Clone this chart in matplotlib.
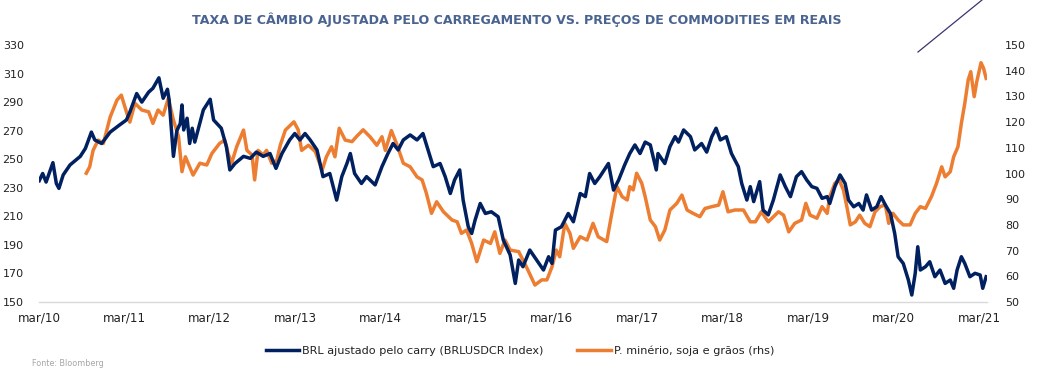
import matplotlib
matplotlib.use("Agg")
import matplotlib.pyplot as plt
from matplotlib.lines import Line2D

# ---- data (decimal years) ----
brl_t = [2010.17, 2010.21, 2010.25, 2010.33, 2010.37, 2010.40, 2010.45, 2010.53, 2010.65, 2010.71,
         2010.78, 2010.82, 2010.90, 2011.00, 2011.11, 2011.19, 2011.23, 2011.31, 2011.37, 2011.45,
         2011.50, 2011.57, 2011.62, 2011.67, 2011.69, 2011.72, 2011.74, 2011.78, 2011.82, 2011.84,
         2011.86, 2011.90, 2011.93, 2011.96, 2011.99, 2012.09, 2012.17, 2012.21, 2012.30, 2012.36,
         2012.40, 2012.46, 2012.56, 2012.64, 2012.71, 2012.79, 2012.87, 2012.94, 2013.01, 2013.10,
         2013.16, 2013.22, 2013.28, 2013.34, 2013.42, 2013.49, 2013.57, 2013.65, 2013.71, 2013.77,
         2013.81, 2013.86, 2013.94, 2014.00, 2014.10, 2014.18, 2014.25, 2014.31, 2014.37, 2014.43,
         2014.51, 2014.59, 2014.66, 2014.72, 2014.78, 2014.86, 2014.92, 2014.98, 2015.03, 2015.09,
         2015.13, 2015.19, 2015.23, 2015.27, 2015.33, 2015.39, 2015.46, 2015.54, 2015.60, 2015.68,
         2015.74, 2015.78, 2015.83, 2015.91, 2015.99, 2016.07, 2016.13, 2016.17, 2016.21, 2016.28,
         2016.36, 2016.42, 2016.50, 2016.56, 2016.61, 2016.67, 2016.73, 2016.83, 2016.89, 2016.95,
         2017.02, 2017.08, 2017.14, 2017.20, 2017.26, 2017.32, 2017.39, 2017.41, 2017.49, 2017.55,
         2017.61, 2017.65, 2017.71, 2017.79, 2017.84, 2017.92, 2017.98, 2018.04, 2018.09, 2018.14,
         2018.21, 2018.27, 2018.35, 2018.39, 2018.45, 2018.49, 2018.53, 2018.60, 2018.64, 2018.70,
         2018.76, 2018.84, 2018.90, 2018.96, 2019.03, 2019.09, 2019.15, 2019.21, 2019.27, 2019.33,
         2019.39, 2019.42, 2019.48, 2019.54, 2019.60, 2019.64, 2019.70, 2019.76, 2019.81, 2019.85,
         2019.91, 2019.97, 2020.02, 2020.07, 2020.13, 2020.18, 2020.22, 2020.28, 2020.34, 2020.38,
         2020.42, 2020.45, 2020.48, 2020.54, 2020.59, 2020.65, 2020.71, 2020.77, 2020.83, 2020.87,
         2020.91, 2020.96, 2021.00, 2021.06, 2021.12, 2021.18, 2021.21, 2021.25]
brl_v = [235, 240, 234, 247.6, 233, 229.6, 239, 246, 252, 257.6,
         269, 263.5, 261, 269, 274, 277.5, 283, 296, 290, 297,
         299.7, 307, 292.7, 299, 291.5, 268, 252, 270, 275, 288,
         270.5, 278.7, 261, 271.7, 262, 284.5, 292, 277.5, 271.7, 258.8,
         242.5, 247, 252, 250.6, 255, 252, 254, 243.6, 254, 263.5,
         268, 263.5, 268, 263.5, 256.5, 237.8, 240, 221.4, 237.8, 247,
         254, 240, 233, 237.8, 232, 244.8, 254, 261, 256.5, 263.5,
         267, 263.5, 268, 256.5, 244.8, 247, 237.8, 226, 235.5, 242.5,
         221.4, 202.7, 198, 207.4, 219, 212, 213.2, 209.7, 193.4, 183,
         163, 179.4, 174.7, 186.4, 179.4, 172.4, 181.7, 177, 200.4, 202.7,
         212, 206.2, 226, 223.8, 240, 233, 237.8, 247, 228.4, 235.5,
         246, 254, 260, 254, 262, 260, 242.5, 254, 247, 258.8,
         265.8, 262, 270.5, 265.8, 256.5, 261, 255, 265.8, 271.7, 263.5,
         265.8, 254, 244.8, 233, 221.4, 230.8, 220.3, 234.3, 214.4, 211,
         221.4, 239, 230.8, 223.8, 237.8, 241.3, 235.5, 230.8, 229.6, 222.6,
         223.8, 219, 230.8, 239, 233, 221.4, 216.7, 219, 214.4, 225,
         214.4, 216.7, 223.8, 218, 212, 198, 181.7, 177, 165.4, 154.9,
         170.1, 188.7, 172.4, 174.7, 178.2, 167.7, 172.4, 163, 165.4, 159.6,
         172.4, 181.7, 177, 167.7, 170.1, 168.9, 159.6, 167.7]

com_t = [2010.72, 2010.76, 2010.80, 2010.86, 2010.92, 2011.00, 2011.08, 2011.13, 2011.19, 2011.23,
         2011.29, 2011.37, 2011.45, 2011.50, 2011.56, 2011.62, 2011.68, 2011.74, 2011.80, 2011.84,
         2011.88, 2011.93, 2011.97, 2012.05, 2012.13, 2012.19, 2012.28, 2012.34, 2012.38, 2012.42,
         2012.48, 2012.56, 2012.60, 2012.66, 2012.69, 2012.73, 2012.79, 2012.83, 2012.89, 2012.95,
         2012.99, 2013.05, 2013.15, 2013.20, 2013.24, 2013.32, 2013.40, 2013.48, 2013.53, 2013.59,
         2013.63, 2013.68, 2013.75, 2013.83, 2013.88, 2013.96, 2014.04, 2014.12, 2014.18, 2014.22,
         2014.29, 2014.35, 2014.43, 2014.51, 2014.59, 2014.65, 2014.70, 2014.76, 2014.82, 2014.90,
         2015.00, 2015.06, 2015.11, 2015.17, 2015.23, 2015.29, 2015.37, 2015.45, 2015.50, 2015.56,
         2015.62, 2015.68, 2015.78, 2015.87, 2015.97, 2016.05, 2016.11, 2016.17, 2016.22, 2016.26,
         2016.32, 2016.38, 2016.42, 2016.50, 2016.58, 2016.65, 2016.71, 2016.81, 2016.87, 2016.93,
         2016.99, 2017.05, 2017.08, 2017.12, 2017.16, 2017.22, 2017.26, 2017.32, 2017.38, 2017.43,
         2017.49, 2017.55, 2017.63, 2017.69, 2017.75, 2017.82, 2017.90, 2017.96, 2018.04, 2018.12,
         2018.17, 2018.23, 2018.31, 2018.41, 2018.49, 2018.55, 2018.62, 2018.70, 2018.82, 2018.88,
         2018.94, 2019.01, 2019.09, 2019.14, 2019.19, 2019.27, 2019.33, 2019.39, 2019.42, 2019.48,
         2019.53, 2019.58, 2019.62, 2019.66, 2019.72, 2019.77, 2019.83, 2019.89, 2019.95, 2020.01,
         2020.07, 2020.11, 2020.16, 2020.22, 2020.28, 2020.36, 2020.42, 2020.48, 2020.54, 2020.61,
         2020.67, 2020.73, 2020.77, 2020.83, 2020.87, 2020.92, 2020.96, 2021.00, 2021.04, 2021.07,
         2021.11, 2021.14, 2021.19, 2021.22, 2021.25]
com_v = [100.1, 102.6, 109, 113, 111.7, 122, 128.6, 130.5, 124, 120,
         127.3, 124.7, 124, 119.5, 124.7, 122.7, 129.2, 120.8, 114.3, 100.7,
         106.5, 102.6, 99.4, 104, 103.3, 107.8, 111.7, 113, 107.8, 104,
         110.4, 116.9, 109, 107.2, 97.5, 109, 107.2, 109, 104, 105.2,
         111, 116.9, 120.1, 117, 109, 111, 108.5, 101.3, 106.5, 110.4,
         106.5, 117.6, 113, 112.4, 114.3, 117, 114.3, 111, 114.3, 109,
         116.7, 111.7, 104, 102.6, 98.7, 97.5, 92.3, 84.5, 89, 85.1,
         81.9, 81.2, 76.7, 78, 72.8, 65.7, 74.1, 72.8, 77.3, 68.9,
         74.1, 70.2, 69.6, 63.7, 56.6, 58.6, 58.6, 63.7, 70.2, 67.6,
         80.6, 76.7, 70.9, 75.4, 74.1, 80.6, 75.4, 73.5, 84.5, 94.9,
         91, 89.7, 94.9, 93.6, 100.1, 96.2, 91, 81.9, 79.3, 74.1,
         78, 85.8, 88.4, 91.6, 85.8, 84.5, 83.2, 86.4, 87.1, 87.7,
         92.9, 85.1, 85.8, 85.8, 81.2, 81.2, 85.1, 81.2, 85.1, 83.8,
         77.3, 80.6, 81.9, 88.4, 83.8, 82.6, 87.1, 84.5, 91, 96.2,
         97.5, 93.6, 87.1, 80, 81.2, 83.8, 80.6, 79.3, 85.1, 87.1,
         87.8, 80.6, 84.5, 81.9, 80, 80, 84.5, 87.1, 86.4, 91,
         96.2, 102.6, 98.7, 100.7, 106.5, 110.4, 119.5, 127.3, 136.4, 139.6,
         129.9, 135.7, 143.1, 140.9, 137]

tick_pos = [2010.167 + k for k in range(12)]
tick_labels = ["mar/10", "mar/11", "mar/12", "mar/13", "mar/14", "mar/15",
               "mar/16", "mar/17", "mar/18", "mar/19", "mar/20", "mar/21"]
left_ticks = [150, 170, 190, 210, 230, 250, 270, 290, 310, 330]
right_ticks = [50, 60, 70, 80, 90, 100, 110, 120, 130, 140, 150]

title = "TAXA DE CÂMBIO AJUSTADA PELO CARREGAMENTO VS. PREÇOS DE COMMODITIES EM REAIS"
label_brl = "BRL ajustado pelo carry (BRLUSDCR Index)"
label_com = "P. minério, soja e grãos (rhs)"
source = "Fonte: Bloomberg"

NAVY = "#002060"
ORANGE = "#ED7D31"

plt.rcParams["font.family"] = ["DejaVu Sans"]

W, H = 1042, 373
fig = plt.figure(figsize=(W / 100, H / 100), dpi=100)
x0, x1, ytop, ybot = 39, 987, 45, 302
ax = fig.add_axes([x0 / W, 1 - ybot / H, (x1 - x0) / W, (ybot - ytop) / H])
ax2 = ax.twinx()

lw = 2.5
ax.plot(brl_t, brl_v, color=NAVY, lw=lw, solid_joinstyle="round", zorder=3)
ax2.plot(com_t, com_v, color=ORANGE, lw=lw, solid_joinstyle="round", zorder=2)
ax.set_zorder(ax2.get_zorder() + 1)
ax.patch.set_visible(False)

ax.set_xlim(2010.167, 2021.26)
ax.set_ylim(150, 330)
ax2.set_ylim(50, 150)
ax.set_yticks(left_ticks)
ax2.set_yticks(right_ticks)
ax.set_xticks(tick_pos)
ax.set_xticklabels(tick_labels)

for a in (ax, ax2):
    for s in a.spines.values():
        s.set_visible(False)
ax.spines["bottom"].set_visible(True)
ax.spines["bottom"].set_color("#D9D9D9")
ax.spines["bottom"].set_linewidth(1.0)

ax.tick_params(axis="y", length=0, pad=11, labelsize=8, labelcolor="#222222")
ax2.tick_params(axis="y", length=0, pad=13, labelsize=8, labelcolor="#222222")
ax.tick_params(axis="x", length=0, pad=7, labelsize=8.6, labelcolor="#222222")

fig.text(517 / W, 1 - 20 / H, title, ha="center", va="center",
         fontsize=9.1, fontweight="bold", color="#4A6491")

handles = [Line2D([], [], color=NAVY, lw=2.5), Line2D([], [], color=ORANGE, lw=2.5)]
fig.legend(handles, [label_brl, label_com], loc="center", ncol=2,
           bbox_to_anchor=(520 / W, 1 - 351 / H), frameon=False,
           fontsize=8.1, handlelength=3.0, handletextpad=0.25, columnspacing=3.0,
           labelcolor="#222222")

fig.text(32 / W, 1 - 363 / H, source, ha="left", va="center", fontsize=5.8, color="#A6A6A6")

fig.add_artist(Line2D([918 / W, 982 / W], [1 - 52 / H, 1.0], transform=fig.transFigure,
                      color="#3B3470", lw=0.9))

fig.savefig("out.png", dpi=100)
